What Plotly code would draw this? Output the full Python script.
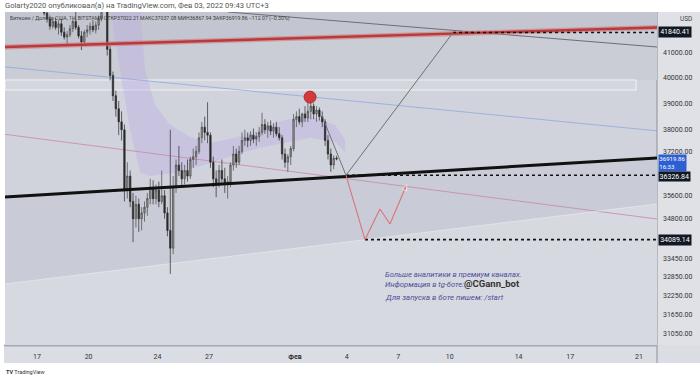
import numpy as np
import pandas as pd
import plotly.graph_objects as go

# ---------------- data: 4-hour candles (UTC+3), first block centred 2022-01-17 02:00 ----------------
opens = [43150, 43050, 42900, 42650, 42400, 42100,
         42300, 42050, 42200, 41850, 41650, 41750,
         42000, 42300, 42050, 41700, 41450, 41850,
         41950, 42100, 41950, 42150, 42400, 42900,
         43000, 41150, 40100, 39300, 38800, 38300,
         38000, 35800, 36300, 35400, 34800, 35300,
         34800, 35000, 35200, 35500, 35900, 35500,
         35800, 35400, 35600, 35000, 34400, 33800,
         35900, 36700, 36500, 36200, 36500, 36300,
         36900, 37000, 37200, 37700, 38100, 37900,
         37800, 36800, 36200, 36000, 36500, 36200,
         36000, 36100, 36700, 37100, 36800, 37200,
         37600, 37700, 37600, 37800, 37650, 37750,
         37900, 38200, 38000, 38150, 37950, 38100,
         37850, 37700, 37100, 36800, 37000, 37300,
         38400, 38500, 38300, 38600, 38450, 38700,
         38900, 38600, 38750, 38500, 38300, 37600,
         37100, 36700, 36950]
highs = [43350, 43250, 43050, 42800, 42550, 42450,
         42450, 42350, 42400, 42050, 41900, 42150,
         42450, 42700, 42150, 41900, 41950, 42150,
         42250, 42350, 42300, 42550, 43100, 43450,
         43100, 41300, 40250, 39500, 39100, 38700,
         38200, 36800, 36500, 35700, 35600, 35500,
         35200, 35400, 35700, 36200, 36150, 36000,
         36100, 36500, 35800, 35200, 38000, 36300,
         36900, 37400, 36800, 36700, 36900, 37000,
         37300, 37400, 37900, 38300, 38500, 39050,
         37900, 37000, 36500, 36700, 36900, 36600,
         36300, 36800, 37400, 37300, 37400, 37900,
         38000, 37900, 37950, 38050, 37900, 38100,
         38650, 38400, 38300, 38350, 38250, 38300,
         38100, 37800, 37300, 37100, 37400, 38600,
         38700, 38800, 38650, 38900, 39300, 39100,
         39000, 38900, 38850, 38700, 38400, 37800,
         37300, 37050, 37040]
lows = [42950, 42800, 42550, 42250, 41950, 42000,
        41950, 41750, 41700, 41550, 41330, 41650,
        41850, 41950, 41600, 41120, 41400, 41650,
        41750, 41850, 41800, 41950, 42300, 42700,
        40900, 39900, 39100, 38500, 37800, 37600,
        35400, 35500, 35200, 34000, 34500, 34350,
        34400, 34700, 34900, 35300, 35300, 35300,
        35200, 35300, 34800, 34200, 32950, 33600,
        35700, 36300, 35900, 36000, 36100, 36200,
        36600, 36700, 37100, 37500, 37600, 37500,
        36600, 35900, 35550, 35900, 36000, 35700,
        35500, 35900, 36500, 36600, 36700, 37100,
        37400, 37350, 37400, 37500, 37400, 37550,
        37800, 37850, 37700, 37800, 37700, 37750,
        37600, 36900, 36600, 36450, 36700, 37200,
        38100, 38200, 38100, 38300, 38300, 38400,
        38400, 38300, 38350, 38100, 37400, 36900,
        36450, 36550, 36870]
closes = [43050, 42900, 42650, 42400, 42100, 42300,
          42050, 42200, 41850, 41650, 41750, 42000,
          42300, 42050, 41700, 41450, 41850, 41950,
          42100, 41950, 42150, 42400, 42900, 43000,
          41150, 40100, 39300, 38800, 38300, 38000,
          35800, 36300, 35400, 34800, 35300, 34800,
          35000, 35200, 35500, 35900, 35500, 35800,
          35400, 35600, 35000, 34400, 33800, 35900,
          36700, 36500, 36200, 36500, 36300, 36900,
          37000, 37200, 37700, 38100, 37900, 37800,
          36800, 36200, 36000, 36500, 36200, 36000,
          36100, 36700, 37100, 36800, 37200, 37600,
          37700, 37600, 37800, 37650, 37750, 37900,
          38200, 38000, 38150, 37950, 38100, 37850,
          37700, 37100, 36800, 37000, 37300, 38400,
          38500, 38300, 38600, 38450, 38700, 38900,
          38600, 38750, 38500, 38300, 37600, 37100,
          36700, 36950, 36919.86]
times = pd.date_range("2022-01-17 02:00", periods=len(closes), freq="4h")

# axis ticks
price_ticks = [41000, 40000, 39000, 38000, 37200, 35600, 34800, 33450, 32850, 32250, 31650, 31050]
date_ticks = ["2022-01-17", "2022-01-20", "2022-01-24", "2022-01-27", "2022-02-01", "2022-02-04",
              "2022-02-07", "2022-02-10", "2022-02-14", "2022-02-17", "2022-02-21"]
date_labels = ["17", "20", "24", "27", "<b>Фев</b>", "4", "7", "10", "14", "17", "21"]

# marked levels
level_top = 41840.41
level_mid = 36326.84
level_low = 34089.14
last_close = 36919.86

# drawings (time, price)
T0, T1 = "2022-01-15 03:20", "2022-02-22 01:08"
edge_t = [T0, T1]
red_line_p = [41244, 42047]
black_line_p = [35560, 36956]
lower_edge_p = [32625, 35313]
blue_line_p = [40440, 37960]
pink_line_p = [37830, 34790]
gray_line_t = ["2022-01-28 02:30", T1]
gray_line_p = [42697, 41244]
rect_t = [T0, "2022-02-20 19:50"]
rect_p = [39526, 39920]
proj_down_t = ["2022-02-02 13:41", "2022-02-03 23:10"]
proj_down_p = [38530, level_mid]
proj_up_t = ["2022-02-03 23:10", "2022-02-10 04:34"]
proj_up_p = [level_mid, level_top]
zigzag_t = ["2022-02-03 23:10", "2022-02-05 01:40", "2022-02-05 22:34", "2022-02-06 12:30", "2022-02-07 12:14"]
zigzag_p = [level_mid, level_low, 35137, 34620, 36016]
circle_t, circle_p = "2022-02-01 21:00", 39250
band_t = ["2022-01-21 01:41", "2022-01-22 23:46", "2022-01-23 06:43", "2022-01-23 20:38", "2022-01-24 17:31",
          "2022-01-25 21:36", "2022-01-27 01:26", "2022-01-28 12:14", "2022-01-29 23:17", "2022-01-31 10:05",
          "2022-02-01 20:53", "2022-02-03 07:55", "2022-02-03 21:50",
          "2022-02-03 21:50", "2022-02-03 07:55", "2022-02-01 20:53", "2022-01-31 10:05", "2022-01-29 23:17",
          "2022-01-28 12:14", "2022-01-27 01:26", "2022-01-25 07:26", "2022-01-23 13:41", "2022-01-22 23:46",
          "2022-01-22 09:50", "2022-01-21 19:55", "2022-01-21 05:46"]
band_p = [43000, 43000, 40320, 38950, 38190, 37740, 37510, 37700, 38000, 38380, 38500, 38190, 37620,
          37170, 37550, 37700, 37510, 37330, 37070, 36770, 36440, 36300, 36440, 38000, 40320, 43000]

P_TOP, P_BOT = 42697, 30713
FAR_HI, FAR_LO = 45000, 29000

fig = go.Figure()


def poly(t, p, color, axes=("x", "y")):
    fig.add_trace(go.Scatter(x=t, y=p, mode="lines", fill="toself", fillcolor=color,
                             line=dict(width=0, color=color), hoverinfo="skip",
                             xaxis=axes[0], yaxis=axes[1]))


def line(t, p, color, width, dash=None, axes=("x2", "y2")):
    fig.add_trace(go.Scatter(x=t, y=p, mode="lines", line=dict(color=color, width=width, dash=dash),
                             hoverinfo="skip", xaxis=axes[0], yaxis=axes[1]))


# background bands (main subplot, below candles)
poly([T0, T1, T1, T0], [FAR_HI, FAR_HI, red_line_p[1], red_line_p[0]], "#c3c6d0")
poly([T0, T1, T1, T0], [red_line_p[0], red_line_p[1], rect_p[1], rect_p[1]], "#caccd6")
poly([T0, T1, T1, T0], [black_line_p[0], black_line_p[1], lower_edge_p[1], lower_edge_p[0]], "#c9ccd6")
poly([T0, T1, T1, T0], [lower_edge_p[0], lower_edge_p[1], FAR_LO, FAR_LO], "#d7d9e0")
fig.add_trace(go.Scatter(x=[rect_t[0], rect_t[1], rect_t[1], rect_t[0], rect_t[0]],
                         y=[rect_p[0], rect_p[0], rect_p[1], rect_p[1], rect_p[0]],
                         mode="lines", fill="toself", fillcolor="#d4d6de",
                         line=dict(color="#f2f3f6", width=1), hoverinfo="skip"))
poly(band_t, band_p, "rgba(185,170,232,0.35)")
line(edge_t, blue_line_p, "rgba(140,165,220,0.75)", 1, axes=("x", "y"))
line(edge_t, pink_line_p, "rgba(200,140,170,0.85)", 1, axes=("x", "y"))
line(edge_t, lower_edge_p, "rgba(235,237,242,0.6)", 1, axes=("x", "y"))
line(gray_line_t, gray_line_p, "#6b6e78", 1, axes=("x", "y"))

# candles (overlay subplot)
fig.add_trace(go.Candlestick(x=times, open=opens, high=highs, low=lows, close=closes,
                             increasing=dict(line=dict(color="#484848", width=0.7), fillcolor="#9a9a9a"),
                             decreasing=dict(line=dict(color="#2a2a2a", width=0.7), fillcolor="#2a2a2a"),
                             whiskerwidth=0, xaxis="x2", yaxis="y2", hoverinfo="skip"))

# drawings over candles
line(edge_t, red_line_p, "rgba(215,110,110,0.55)", 5)
line(edge_t, red_line_p, "#b83a3c", 2.4)
line(edge_t, black_line_p, "#111111", 3)
line([proj_up_t[1], T1], [level_top, level_top], "#111111", 1.6, dash="dot")
line([proj_up_t[0], T1], [level_mid, level_mid], "#111111", 1.6, dash="dot")
line([zigzag_t[1], T1], [level_low, level_low], "#111111", 1.6, dash="dot")
line(proj_down_t, proj_down_p, "#6e7378", 1)
line(proj_up_t, proj_up_p, "#617868", 1)
fig.add_trace(go.Scatter(x=zigzag_t, y=zigzag_p, mode="lines+markers",
                         line=dict(color="#d9737a", width=1.1),
                         marker=dict(size=[0, 0, 0, 0, 7], symbol="arrow", angleref="previous",
                                     color="#d9737a"),
                         hoverinfo="skip", xaxis="x2", yaxis="y2"))
fig.add_trace(go.Scatter(x=[circle_t], y=[circle_p], mode="markers",
                         marker=dict(size=12, color="#d2393c", line=dict(color="#b02a2e", width=1)),
                         hoverinfo="skip", xaxis="x2", yaxis="y2"))

# ---------------- layout ----------------
W, H = 700, 380
L, R, T, B = 5, 43, 12, 35


def px(xp):
    return (xp - L) / (W - L - R)


def py(yp):
    return (H - B - yp) / (H - T - B)


yrange = [np.log10(P_BOT), np.log10(P_TOP)]
FONT = "Roboto, Liberation Sans, sans-serif"

fig.update_layout(
    width=W, height=H, margin=dict(l=L, r=R, t=T, b=B, autoexpand=False),
    paper_bgcolor="white", plot_bgcolor="#d0d3dc", showlegend=False,
    font=dict(family=FONT, size=7, color="#333333"),
    xaxis=dict(type="date", range=[T0, T1], tickvals=date_ticks, ticktext=date_labels,
               showgrid=False, zeroline=False, ticks="", showline=False,
               tickfont=dict(size=7, color="#333333"), ticklabelstandoff=6,
               rangeslider=dict(visible=False), fixedrange=True),
    yaxis=dict(type="log", range=yrange, side="right", tickvals=price_ticks,
               ticktext=[f"{v:.2f}" for v in price_ticks], showgrid=False, zeroline=False,
               ticks="", showline=False, tickfont=dict(size=7, color="#333333"),
               ticklabelstandoff=5, fixedrange=True),
    xaxis2=dict(type="date", range=[T0, T1], overlaying="x", visible=False,
                rangeslider=dict(visible=False)),
    yaxis2=dict(type="log", range=yrange, overlaying="y", side="right", visible=False),
)

shapes = [
    dict(type="rect", xref="paper", yref="paper", x0=px(4), x1=px(700), y0=py(345), y1=py(363),
         fillcolor="#dadde4", line=dict(width=0), layer="below"),
    dict(type="rect", xref="paper", yref="paper", x0=px(657), x1=px(700), y0=py(12), y1=py(345),
         fillcolor="#dfe1e7", line=dict(width=0), layer="below"),
    dict(type="line", xref="paper", yref="paper", x0=px(657), x1=px(657), y0=py(12), y1=py(363),
         line=dict(color="#8c8f98", width=1), layer="below"),
    dict(type="line", xref="paper", yref="paper", x0=px(4), x1=px(657), y0=py(345.5), y1=py(345.5),
         line=dict(color="#a6a9b3", width=2), layer="below"),
]
fig.update_layout(shapes=shapes)

ann = []
ann.append(dict(xref="paper", yref="paper", x=px(3), y=py(5.5), xanchor="left", yanchor="middle",
                text="Golarty2020 опубликовал(а) на TradingView.com, Фев 03, 2022 09:43 UTC+3",
                showarrow=False, font=dict(size=7.6, color="#555555")))
ann.append(dict(xref="paper", yref="paper", x=px(8), y=py(18.5), xanchor="left", yanchor="middle",
                text="Биткоин / Доллар США, 1Ч, BITSTAMP ОТКР37022.21 МАКС37037.08 МИН36867.94 "
                     "ЗАКР36919.86 −112.07 (−0.30%)",
                showarrow=False, font=dict(size=5.2, color="#3a3a3a")))
ann.append(dict(xref="paper", yref="paper", x=px(686), y=py(19), xanchor="center", yanchor="middle",
                text="USD", showarrow=False, font=dict(size=6.5, color="#444444")))
ann.append(dict(xref="paper", yref="y", x=px(658), y=np.log10(level_top), xanchor="left", yanchor="middle",
                text=f"{level_top:.2f}", showarrow=False, bgcolor="#131722", borderpad=1.2,
                font=dict(size=7, color="white")))
ann.append(dict(xref="paper", yref="y", x=px(658), y=np.log10(last_close), yshift=-4, xanchor="left",
                yanchor="middle", text=f"{last_close:.2f}<br>16:33", align="left", showarrow=False,
                bgcolor="#2d5fd3", borderpad=0.3, font=dict(size=6.1, color="white")))
ann.append(dict(xref="paper", yref="y", x=px(658), y=np.log10(level_mid), yshift=-1, xanchor="left",
                yanchor="middle", text=f"{level_mid:.2f}", showarrow=False, bgcolor="#131722",
                borderpad=0.6, font=dict(size=7, color="white")))
ann.append(dict(xref="paper", yref="y", x=px(658), y=np.log10(level_low), xanchor="left", yanchor="middle",
                text=f"{level_low:.2f}", showarrow=False, bgcolor="#131722", borderpad=1.2,
                font=dict(size=7, color="white")))
txt_color = "#4b4f9a"
ann.append(dict(xref="paper", yref="paper", x=px(383), y=py(274), xanchor="left", yanchor="middle",
                text="<i>Больше аналитики в премиум каналах.</i>", showarrow=False,
                font=dict(size=7.6, color=txt_color)))
ann.append(dict(xref="paper", yref="paper", x=px(383), y=py(283.5), xanchor="left", yanchor="middle",
                text="<i>Информация в tg-боте:</i><span style='color:#333333;font-size:9.5px'><b>@CGann_bot</b></span>",
                showarrow=False, font=dict(size=7.6, color=txt_color)))
ann.append(dict(xref="paper", yref="paper", x=px(383), y=py(297), xanchor="left", yanchor="middle",
                text="<i>Для запуска в боте пишем: /start</i>", showarrow=False,
                font=dict(size=7.8, color=txt_color)))
ann.append(dict(xref="paper", yref="paper", x=px(4), y=py(372), xanchor="left", yanchor="middle",
                text="<b>TV</b> TradingView", showarrow=False, font=dict(size=5.5, color="#333333")))
fig.update_layout(annotations=ann)

fig.write_html("out.html", config={"displayModeBar": False},
               post_script="document.body.style.margin='0px';")
